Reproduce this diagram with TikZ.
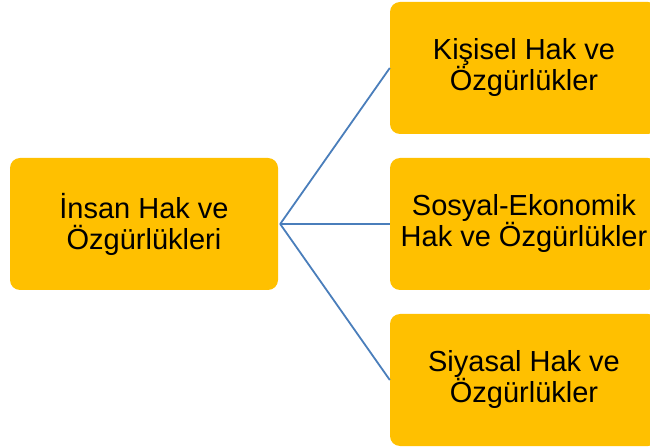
\documentclass[tikz,border=0pt]{standalone}
\usepackage{fontspec}
\setmainfont{Liberation Sans}
\usepackage{tikz}
\usetikzlibrary{positioning}

\definecolor{boxfill}{HTML}{FFC000}
\definecolor{linkblue}{HTML}{4A7EBB}

\begin{document}
\begin{tikzpicture}[x=1pt, y=1pt,
    hakbox/.style={fill=boxfill, rounded corners=10pt, minimum width=268pt,
      minimum height=132pt, align=center, inner sep=0pt,
      font=\fontsize{29}{31}\selectfont},
    link/.style={draw=linkblue, line width=1.8pt}]
  \useasboundingbox (0,0) rectangle (650,447);

  % Root box
  \node[hakbox] (insan) at (144,223) {İnsan Hak ve\\Özgürlükleri};

  % Branch boxes
  \node[hakbox] (kisisel) at (524,379) {Kişisel Hak ve\\Özgürlükler};
  \node[hakbox] (sosyal) at (524,223) {Sosyal-Ekonomik\\Hak ve Özgürlükler};
  \node[hakbox] (siyasal) at (524,67) {Siyasal Hak ve\\Özgürlükler};

  % Links
  \foreach \b in {kisisel,sosyal,siyasal} {
    \draw[link] ([xshift=2pt]insan.east) -- (\b.west);
  }
\end{tikzpicture}
\end{document}
